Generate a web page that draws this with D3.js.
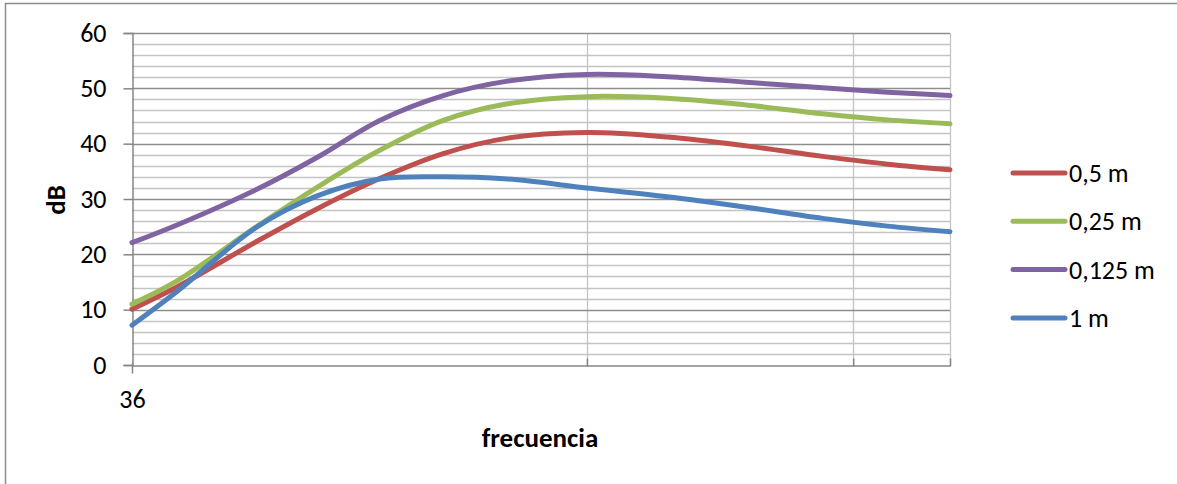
<!DOCTYPE html>
<html>
<head>
<meta charset="utf-8">
<script src="https://cdn.jsdelivr.net/npm/d3@7"></script>
<style>
  html, body { margin: 0; padding: 0; background: #fff; }
  svg { display: block; font-family: Carlito, Lato, "Open Sans", sans-serif; }
</style>
</head>
<body>
<svg id="chart" width="1177" height="484"></svg>
<script>
// Frequencies (Hz) at which each level was measured
const frequencies = [36, 50, 90, 140, 220, 350, 560, 1000, 1800, 3200, 5600, 9000, 14200];

// Sound level (dB) per distance
const series05 = [10.1, 14.1, 22.4, 28.3, 33.7, 38.2, 41.0, 42.0, 41.2, 39.6, 37.7, 36.3, 35.3];
const series025 = [11.0, 15.2, 25.1, 32.2, 38.8, 44.2, 47.2, 48.5, 48.2, 47.0, 45.4, 44.3, 43.6];
const series0125 = [22.1, 25.3, 31.8, 37.6, 44.2, 48.7, 51.3, 52.5, 52.1, 51.1, 50.1, 49.3, 48.7];
const series1 = [7.2, 13.3, 25.0, 30.6, 33.6, 34.0, 33.6, 32.0, 30.4, 28.5, 26.5, 25.1, 24.1];

const seriesNames = ["0,5 m", "0,25 m", "0,125 m", "1 m"];
const seriesColors = ["#C0504D", "#9BBB59", "#8064A2", "#4F81BD"];
const seriesValues = [series05, series025, series0125, series1];

// Axis settings
const yTicks = [0, 10, 20, 30, 40, 50, 60];
const yMinorStep = 2;
const xLabelled = [36];
const xGridFreqs = [1000, 7000, 14200];

const svg = d3.select("#chart");

// Outer chart frame (continues past the right and bottom edges)
svg.append("rect")
  .attr("x", 5.5).attr("y", 3.5)
  .attr("width", 1200).attr("height", 500)
  .attr("fill", "none").attr("stroke", "#8c8c8c").attr("stroke-width", 1.5);

const x = d3.scaleLog().domain([36, 14200]).range([132, 950]);
const y = d3.scaleLinear().domain([0, 60]).range([365, 33]);

const grid = svg.append("g");

// Minor horizontal gridlines
const minor = d3.range(0, 60 + 0.001, yMinorStep).filter(v => v % 10 !== 0);
grid.selectAll("line.minor").data(minor).join("line")
  .attr("x1", x(36)).attr("x2", x(14200))
  .attr("y1", d => Math.round(y(d)) + 0.5).attr("y2", d => Math.round(y(d)) + 0.5)
  .attr("stroke", "#c4c4c4").attr("stroke-width", 1.3);

// Vertical gridlines
grid.selectAll("line.vgrid").data(xGridFreqs).join("line")
  .attr("x1", d => Math.round(x(d)) + 0.5).attr("x2", d => Math.round(x(d)) + 0.5)
  .attr("y1", y(60)).attr("y2", y(0))
  .attr("stroke", "#c4c4c4").attr("stroke-width", 1.3);

// Major horizontal gridlines
grid.selectAll("line.major").data(yTicks.filter(v => v > 0)).join("line")
  .attr("x1", x(36)).attr("x2", x(14200))
  .attr("y1", d => Math.round(y(d)) + 0.5).attr("y2", d => Math.round(y(d)) + 0.5)
  .attr("stroke", "#8e8e8e").attr("stroke-width", 1.3);

// Y axis
const yAxis = d3.axisLeft(y).tickValues(yTicks).tickSize(9).tickPadding(17);
const gy = svg.append("g").attr("transform", `translate(${x(36) + 0.5},0)`).call(yAxis);
gy.select(".domain").attr("stroke", "#868686").attr("stroke-width", 1.5);
gy.selectAll(".tick line").attr("stroke", "#868686").attr("stroke-width", 1.5);
gy.selectAll(".tick text").attr("font-size", 26).attr("fill", "#000")
  .attr("font-family", "Carlito, Lato, sans-serif");

// X axis
const xAxis = d3.axisBottom(x)
  .tickValues(xLabelled.concat(xGridFreqs))
  .tickSize(0)
  .tickFormat(d => xLabelled.includes(d) ? String(d) : "")
  .tickPadding(24);
const gx = svg.append("g").attr("transform", `translate(0,${y(0) + 0.5})`).call(xAxis);
gx.select(".domain").attr("stroke", "#868686").attr("stroke-width", 1.5);
gx.selectAll(".tick text").attr("font-size", 26).attr("fill", "#000")
  .attr("font-family", "Carlito, Lato, sans-serif");
// tick marks: first one crosses below the axis, the others sit just above it
gx.selectAll(".tick").append("line")
  .attr("y1", d => d === 36 ? -2 : -7)
  .attr("y2", d => d === 36 ? 8 : 1)
  .attr("stroke", "#868686").attr("stroke-width", 1.5);

// Series lines
const line = d3.line()
  .x((d, i) => x(frequencies[i]))
  .y(d => y(d))
  .curve(d3.curveCatmullRom.alpha(0.5));

svg.append("g").selectAll("path").data(seriesValues).join("path")
  .attr("d", d => line(d))
  .attr("fill", "none")
  .attr("stroke", (d, i) => seriesColors[i])
  .attr("stroke-width", 5)
  .attr("stroke-linecap", "round")
  .attr("stroke-linejoin", "round");

// Axis titles
svg.append("text")
  .attr("transform", "translate(65,200) rotate(-90)")
  .attr("text-anchor", "middle")
  .attr("font-weight", "bold").attr("font-size", 27)
  .text("dB");

svg.append("text")
  .attr("x", 540).attr("y", 447)
  .attr("text-anchor", "middle")
  .attr("font-weight", "bold").attr("font-size", 27)
  .text("frecuencia");

// Legend
const legend = svg.append("g").attr("transform", "translate(1011,173)");
const item = legend.selectAll("g").data(seriesNames).join("g")
  .attr("transform", (d, i) => `translate(0,${i * 48.3})`);
item.append("line")
  .attr("x1", 2).attr("x2", 54)
  .attr("stroke", (d, i) => seriesColors[i])
  .attr("stroke-width", 5).attr("stroke-linecap", "round");
item.append("text")
  .attr("x", 58).attr("y", 9)
  .attr("font-size", 26)
  .text(d => d);
</script>
</body>
</html>
